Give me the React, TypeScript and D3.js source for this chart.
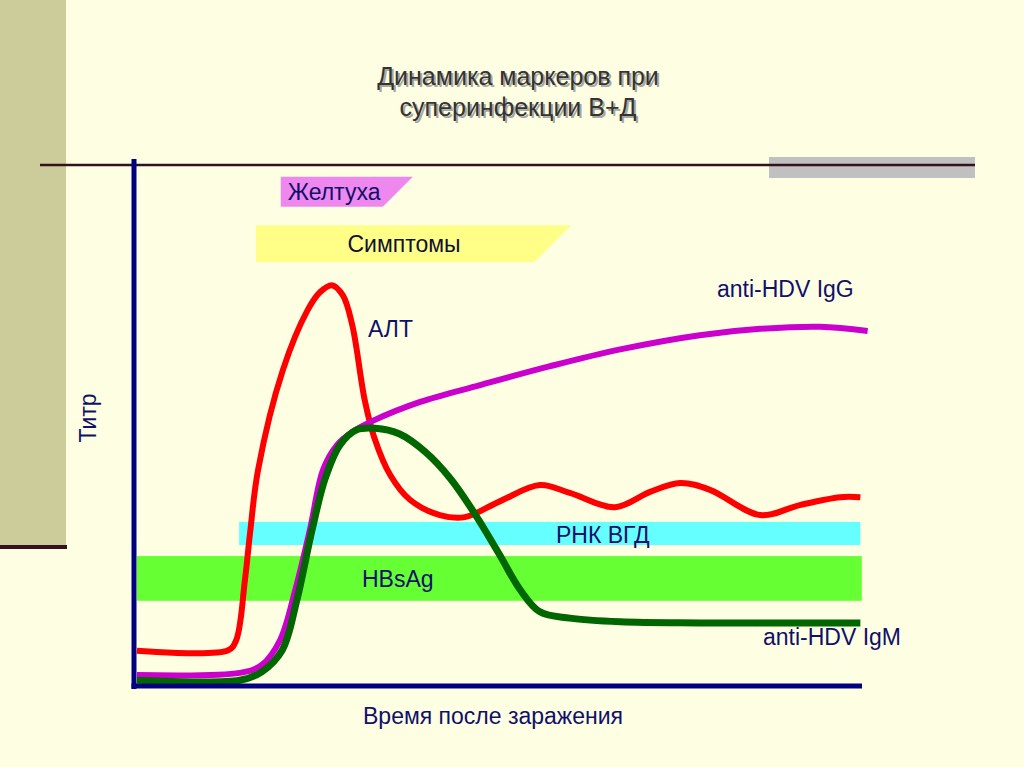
import * as d3 from 'd3';
import {useEffect, useRef} from 'react';

// time axis 0..100, titre axis 0..100 (arbitrary units as on the slide)
const altTime = [0.4, 12.9, 14, 15.2, 15.9, 17, 20.4, 23.8, 25.5, 27.1, 28.6, 29.9, 31.6, 32.9, 35.1, 37.8, 41.9, 45.3, 50.1, 55.6, 59.7, 65.9, 70.7, 74.8, 78.9, 85.8, 91.2, 96.7, 99.5];
const altValue = [6.7, 6.8, 8.7, 20.2, 29.1, 41.1, 60.1, 71.5, 74.9, 76.2, 74.3, 68.6, 54.4, 47.3, 40.1, 35.4, 32.5, 32.1, 35.1, 38.2, 36.7, 34, 36.9, 38.6, 37.3, 32.5, 34.4, 35.9, 35.9];

const iggTime = [0.4, 14.5, 17.5, 20, 22.1, 24.1, 25.9, 27.8, 29.9, 32.7, 39.2, 47.4, 57, 66.6, 77.5, 85.8, 94, 100.5];
const iggValue = [2.1, 2.5, 4, 8.7, 18.3, 29.7, 41.1, 45.8, 48.3, 50.4, 54, 57.2, 60.8, 64, 66.7, 67.9, 68.3, 67.5];

const igmTime = [0.4, 14.5, 17.5, 20.3, 22.3, 24.4, 26.2, 28.2, 30.5, 33, 36.4, 39.9, 43.3, 46.8, 50.1, 52.9, 55.6, 59.7, 66.6, 77.5, 99.5];
const igmValue = [1.1, 1.1, 2.7, 6.8, 16.3, 29.7, 39.5, 45.8, 48.7, 49, 47.9, 44.5, 39.5, 32.5, 24.9, 18.3, 14.1, 12.9, 12.2, 12, 12];

// horizontal marker bands: name, start, end (time), top, bottom (titre)
const bandNames = ['РНК ВГД', 'HBsAg'];
const bandStart = [14.4, 0.4];
const bandEnd = [99.5, 99.7];
const bandTop = [31.2, 24.7];
const bandBottom = [26.8, 16.2];

// clinical periods above the plot
const periodNames = ['Желтуха', 'Симптомы'];
const periodStart = [20.1, 16.7];
const periodEnd = [38.2, 59.9];
const periodTop = [96.8, 87.6];
const periodBottom = [91.1, 80.6];

const W = 1024;
const H = 767;
const x = d3.scaleLinear().domain([0, 100]).range([134, 864]);
const y = d3.scaleLinear().domain([0, 100]).range([686, 160]);

const textColor = '#10106a';
const font = '"Liberation Sans", Arial, sans-serif';
const fs = 23;

export default function App() {
	const ref = useRef<SVGSVGElement>(null);

	useEffect(() => {
		const svg = d3.select(ref.current);
		svg.selectAll('*').remove();

		svg.append('rect').attr('width', W).attr('height', H).attr('fill', '#fefee2');

		// slide decoration
		svg.append('rect').attr('x', 0).attr('y', 0).attr('width', 66).attr('height', 546).attr('fill', '#cccb9a');
		svg.append('rect').attr('x', 0).attr('y', 545).attr('width', 67).attr('height', 4).attr('fill', '#33111f');
		svg.append('rect').attr('x', 769).attr('y', 157).attr('width', 206).attr('height', 21).attr('fill', '#c0c0c0');
		svg.append('line').attr('x1', 40).attr('x2', 975).attr('y1', 165).attr('y2', 165)
			.attr('stroke', '#33111f').attr('stroke-width', 2.5);

		// title with shadow
		const title = ['Динамика маркеров при', 'суперинфекции В+Д'];
		[{dx: 2, dy: 2, c: '#a8a8a0'}, {dx: 0, dy: 0, c: '#333333'}].forEach((s) => {
			title.forEach((t, i) => {
				svg.append('text').attr('x', 518 + s.dx).attr('y', 85 + i * 31 + s.dy)
					.attr('text-anchor', 'middle').attr('font-family', font).attr('font-size', 25)
					.attr('fill', s.c).text(t);
			});
		});

		// periods
		periodNames.forEach((n, i) => {
			const x0 = x(periodStart[i]);
			const x1 = x(periodEnd[i]);
			const y0 = y(periodTop[i]);
			const y1 = y(periodBottom[i]);
			const slant = (y1 - y0) * 1.0;
			svg.append('path')
				.attr('d', `M${x0},${y0}L${x1},${y0}L${x1 - slant},${y1}L${x0},${y1}Z`)
				.attr('fill', i === 0 ? '#ee88ee' : '#ffff88');
			svg.append('text')
				.attr('x', i === 0 ? x0 + 7 : 404)
				.attr('y', (y0 + y1) / 2 + 8)
				.attr('text-anchor', i === 0 ? 'start' : 'middle')
				.attr('font-family', font).attr('font-size', fs).attr('fill', i === 0 ? textColor : '#111133')
				.text(n);
		});

		// bands
		bandNames.forEach((n, i) => {
			svg.append('rect')
				.attr('x', x(bandStart[i])).attr('width', x(bandEnd[i]) - x(bandStart[i]))
				.attr('y', y(bandTop[i])).attr('height', y(bandBottom[i]) - y(bandTop[i]))
				.attr('fill', i === 0 ? '#66ffff' : '#66ff33');
		});

		// curves
		const line = d3.line<[number, number]>()
			.x((d) => x(d[0]))
			.y((d) => y(d[1]))
			.curve(d3.curveCatmullRom.alpha(0.5));

		const curves = [
			{t: altTime, v: altValue, c: '#ff0000', w: 6},
			{t: iggTime, v: iggValue, c: '#cc00cc', w: 6},
			{t: igmTime, v: igmValue, c: '#006600', w: 7},
		];
		curves.forEach((cv) => {
			svg.append('path')
				.attr('d', line(cv.t.map((t, i) => [t, cv.v[i]] as [number, number])))
				.attr('fill', 'none').attr('stroke', cv.c).attr('stroke-width', cv.w)
				.attr('stroke-linecap', 'butt').attr('stroke-linejoin', 'round');
		});

		// axes
		svg.append('line').attr('x1', x(0)).attr('x2', x(0)).attr('y1', 159).attr('y2', 689)
			.attr('stroke', '#000080').attr('stroke-width', 5);
		svg.append('line').attr('x1', x(0) - 2.5).attr('x2', 862).attr('y1', y(0)).attr('y2', y(0))
			.attr('stroke', '#000080').attr('stroke-width', 5);

		// labels
		const label = (t: string, px: number, py: number) =>
			svg.append('text').attr('x', px).attr('y', py).attr('font-family', font).attr('font-size', fs)
				.attr('fill', textColor).text(t);
		label(bandNames[0], 556, 543);
		label(bandNames[1], 362, 587);
		label('anti-HDV IgG', 717, 297);
		label('АЛТ', 368, 337);
		label('anti-HDV IgM', 763, 645);
		label('Время после заражения', 363, 724);
		svg.append('text').attr('transform', 'translate(96,418) rotate(-90)').attr('text-anchor', 'middle')
			.attr('font-family', font).attr('font-size', fs).attr('fill', textColor).text('Титр');
	}, []);

	return <svg ref={ref} width={W} height={H} style={{position: 'absolute', left: 0, top: 0}} />;
}
